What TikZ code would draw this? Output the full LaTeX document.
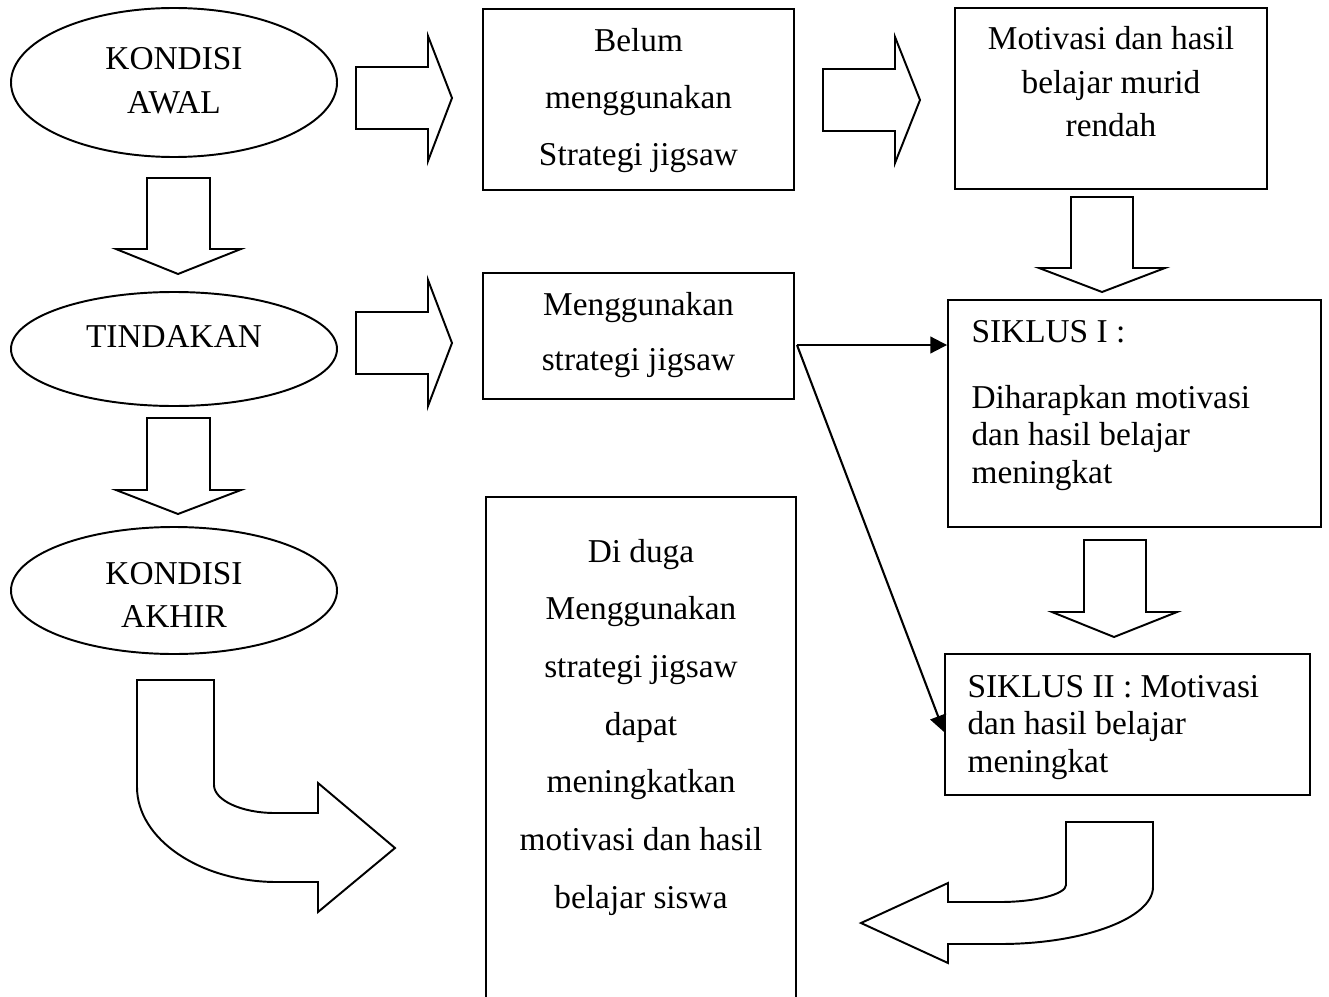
\documentclass[tikz,border=0pt]{standalone}
\usepackage{fontspec}
\setmainfont{Liberation Serif}
\usetikzlibrary{shapes.geometric,arrows.meta,calc}
\newcommand\ctrlines[2]{\vtop{\baselineskip=#1\relax\lineskiplimit=-100pt\halign{\hfil##\hfil\cr#2\crcr}}}
\newcommand\leftlines[2]{\vtop{\baselineskip=#1\relax\lineskiplimit=-100pt\halign{##\hfil\cr#2\crcr}}}
\tikzset{
  ln/.style={line width=0.7pt, line join=miter},
  oval/.style={ln, draw, ellipse, inner sep=0pt},
  box/.style={ln, draw, rectangle, inner sep=0pt},
  txt/.style={inner sep=0pt, font=\fontsize{12}{14}\selectfont},
  blockarrow/.style={ln, draw, fill=white},
  conn/.style={line width=0.75pt, -{Triangle[length=6pt,width=6pt]}},
}
\begin{document}
\begin{tikzpicture}[x=0.36pt, y=-0.36pt]
\useasboundingbox (0,0) rectangle (1329,996);
\clip (0,0) rectangle (1329,996);

% ellipses
\node[oval, minimum width=326*0.36pt, minimum height=149*0.36pt] (e1) at (174,82.5) {};
\node[oval, minimum width=326*0.36pt, minimum height=114*0.36pt] (e2) at (174,349) {};
\node[oval, minimum width=326*0.36pt, minimum height=127*0.36pt] (e3) at (174,590.5) {};
\node[txt, anchor=base] (te1) at (174,70) {\ctrlines{15.5pt}{KONDISI\cr AWAL}};
\node[txt, anchor=base] (te2) at (174,347) {TINDAKAN};
\node[txt, anchor=base] (te3) at (174,584) {\ctrlines{15.8pt}{KONDISI\cr AKHIR}};

% boxes
\node[box, minimum width=311*0.36pt, minimum height=181*0.36pt] (b1) at (638.5,99.5) {};
\node[box, minimum width=312*0.36pt, minimum height=181*0.36pt] (b2) at (1111,98.5) {};
\node[box, minimum width=311*0.36pt, minimum height=126*0.36pt] (b3) at (638.5,336) {};
\node[box, minimum width=373*0.36pt, minimum height=227*0.36pt] (s1) at (1134.5,413.5) {};
\node[box, minimum width=365*0.36pt, minimum height=141*0.36pt] (s2) at (1127.5,724.5) {};
\node[box, minimum width=310*0.36pt, minimum height=530*0.36pt] (big) at (641,762) {};

\node[txt, anchor=base] (tb1) at (638.5,52) {\ctrlines{20.5pt}{Belum\cr menggunakan\cr Strategi jigsaw}};
\node[txt, anchor=base] (tb2) at (1111,50) {\ctrlines{15.66pt}{Motivasi dan hasil\cr belajar murid\cr rendah}};
\node[txt, anchor=base] (tb3) at (638.5,315) {\ctrlines{19.8pt}{Menggunakan\cr strategi jigsaw}};
\node[txt, anchor=base west] (ts1) at (971,342) {\leftlines{13.6pt}{SIKLUS I :\cr\noalign{\vskip 10.2pt} Diharapkan motivasi\cr dan hasil belajar\cr meningkat}};
\node[txt, anchor=base west] (ts2) at (967,697) {\leftlines{13.6pt}{SIKLUS II : Motivasi\cr dan hasil belajar\cr meningkat}};
\node[txt, anchor=base] (tbig) at (641,562) {\ctrlines{20.76pt}{Di duga\cr Menggunakan\cr strategi jigsaw\cr dapat\cr meningkatkan\cr motivasi dan hasil\cr belajar siswa}};

% block arrows right
\draw[blockarrow] (356,67)--(428,67)--(428,36)--(452,98)--(428,161)--(428,129)--(356,129)--cycle;
\draw[blockarrow] (356,312)--(428,312)--(428,280)--(452,343)--(428,406)--(428,374)--(356,374)--cycle;
\draw[blockarrow] (823,69)--(895,69)--(895,37)--(920,100)--(895,163)--(895,131)--(823,131)--cycle;

% block arrows down
\draw[blockarrow] (147,178)--(210,178)--(210,249)--(241,249)--(178,274)--(116,249)--(147,249)--cycle;
\draw[blockarrow] (147,418)--(210,418)--(210,490)--(241,490)--(178,514)--(116,490)--(147,490)--cycle;
\draw[blockarrow] (1071,197)--(1133,197)--(1133,268)--(1165,268)--(1102,292)--(1039,268)--(1071,268)--cycle;
\draw[blockarrow] (1084,540)--(1146,540)--(1146,612)--(1177,612)--(1114,637)--(1052,612)--(1084,612)--cycle;

% curved block arrows
\draw[blockarrow] (137,680) -- (214,680) -- (214,785) .. controls (214,800) and (241,813) .. (275,813) -- (318,813) -- (318,783) -- (395,848) -- (318,912) -- (318,882) -- (277,882) .. controls (200,882) and (137,839) .. (137,787) -- cycle;
\draw[blockarrow] (1066,822) -- (1153,822) -- (1153,887) .. controls (1153,918) and (1084,944) .. (1000,944) -- (948,944) -- (948,963) -- (861,923) -- (948,883) -- (948,902) -- (1000,902) .. controls (1036,902) and (1066,894) .. (1066,885) -- cycle;

% connectors
\coordinate (src) at ($(b3.east)+(2,9)$);
\coordinate (s2in) at ($(s2.west)+(0,7.5)$);
\draw[conn] (src) -- (s1.west |- src);
\draw[conn] (src) -- (s2in);
\end{tikzpicture}
\end{document}
